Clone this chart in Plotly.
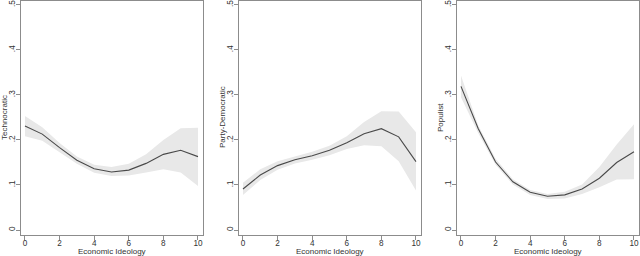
import plotly.graph_objects as go

x_vals = list(range(11))

tech_mean = [0.231, 0.213, 0.183, 0.155, 0.136, 0.129, 0.133, 0.148, 0.168, 0.177, 0.163]
tech_upper = [0.253, 0.228, 0.193, 0.163, 0.145, 0.140, 0.147, 0.168, 0.200, 0.226, 0.227]
tech_lower = [0.208, 0.198, 0.173, 0.147, 0.127, 0.120, 0.121, 0.128, 0.135, 0.128, 0.098]

party_mean = [0.091, 0.122, 0.143, 0.156, 0.165, 0.177, 0.194, 0.214, 0.225, 0.207, 0.152]
party_upper = [0.105, 0.135, 0.153, 0.163, 0.174, 0.187, 0.208, 0.240, 0.264, 0.263, 0.217]
party_lower = [0.078, 0.111, 0.134, 0.148, 0.156, 0.166, 0.180, 0.188, 0.186, 0.153, 0.088]

pop_mean = [0.319, 0.225, 0.151, 0.107, 0.084, 0.075, 0.078, 0.091, 0.115, 0.150, 0.174]
pop_upper = [0.343, 0.232, 0.158, 0.113, 0.089, 0.080, 0.085, 0.101, 0.140, 0.190, 0.235]
pop_lower = [0.295, 0.215, 0.145, 0.101, 0.078, 0.069, 0.070, 0.080, 0.095, 0.112, 0.113]

panel_titles = ["Technocratic", "Party-Democratic", "Populist"]
x_title = "Economic Ideology"
y_tickvals = [0, 0.1, 0.2, 0.3, 0.4, 0.5]
y_ticktext = ["0", ".1", ".2", ".3", ".4", ".5"]
x_tickvals = [0, 2, 4, 6, 8, 10]

panels = [
    (tech_mean, tech_upper, tech_lower),
    (party_mean, party_upper, party_lower),
    (pop_mean, pop_upper, pop_lower),
]

W, H = 640, 256
fig = go.Figure()
tick_font = dict(family="Liberation Sans, Arial, sans-serif", size=8.2, color="#333333")
title_font = dict(family="Liberation Sans, Arial, sans-serif", size=8, color="#333333")
axis_color = "#8c8c8c"

left_px = [21, 239, 457]
width_px = 182
top_px = 0.5
bottom_px = 235

annotations = []
layout = {}
for i, (m, up, lo) in enumerate(panels):
    xa = "x" if i == 0 else f"x{i+1}"
    ya = "y" if i == 0 else f"y{i+1}"
    fig.add_trace(go.Scatter(
        x=x_vals + x_vals[::-1], y=up + lo[::-1], fill="toself",
        fillcolor="#e8e8e8", line=dict(width=0), mode="lines",
        hoverinfo="skip", showlegend=False, xaxis=xa, yaxis=ya))
    fig.add_trace(go.Scatter(
        x=x_vals, y=m, mode="lines", line=dict(color="#4a4a4a", width=1.1),
        showlegend=False, xaxis=xa, yaxis=ya))
    xkey = "xaxis" if i == 0 else f"xaxis{i+1}"
    ykey = "yaxis" if i == 0 else f"yaxis{i+1}"
    x0 = left_px[i] / W
    x1 = (left_px[i] + width_px) / W
    layout[xkey] = dict(
        domain=[x0, x1], automargin=False,
        range=[-0.23, 10.29], tickvals=x_tickvals, ticks="outside", ticklen=3.5,
        tickcolor=axis_color, showline=True, linecolor=axis_color, linewidth=1.2,
        mirror=True, showgrid=False, zeroline=False, anchor=ya, tickfont=tick_font,
        ticklabelstandoff=-3, ticklabeloverflow="allow")
    layout[ykey] = dict(
        domain=[1 - bottom_px / H, 1 - top_px / H], automargin=False,
        range=[-0.0111, 0.5098], tickvals=y_tickvals, ticktext=y_ticktext,
        ticks="outside", ticklen=3.5, tickcolor=axis_color, tickangle=-90,
        showline=True, linecolor=axis_color, linewidth=1.2, mirror=True,
        showgrid=False, zeroline=False, anchor=xa, tickfont=tick_font,
        ticklabelstandoff=-2, ticklabeloverflow="allow")
    annotations.append(dict(
        text=x_title, xref="paper", yref="paper", x=(x0 + x1) / 2,
        y=1 - 251.5 / H, xanchor="center", yanchor="middle",
        showarrow=False, font=title_font))
    annotations.append(dict(
        text=panel_titles[i], xref="paper", yref="paper",
        x=(left_px[i] - 16.5) / W, y=1 - (bottom_px / 2) / H,
        xanchor="center", yanchor="middle", textangle=-90,
        showarrow=False, font=title_font))

fig.update_layout(
    width=W, height=H, margin=dict(l=0, r=0, t=0, b=0),
    paper_bgcolor="white", plot_bgcolor="white", font=tick_font,
    annotations=annotations, **layout)

fig.write_html(
    "out.html", config={"displayModeBar": False},
    post_script="document.body.style.margin='0';document.body.style.overflow='hidden';")
